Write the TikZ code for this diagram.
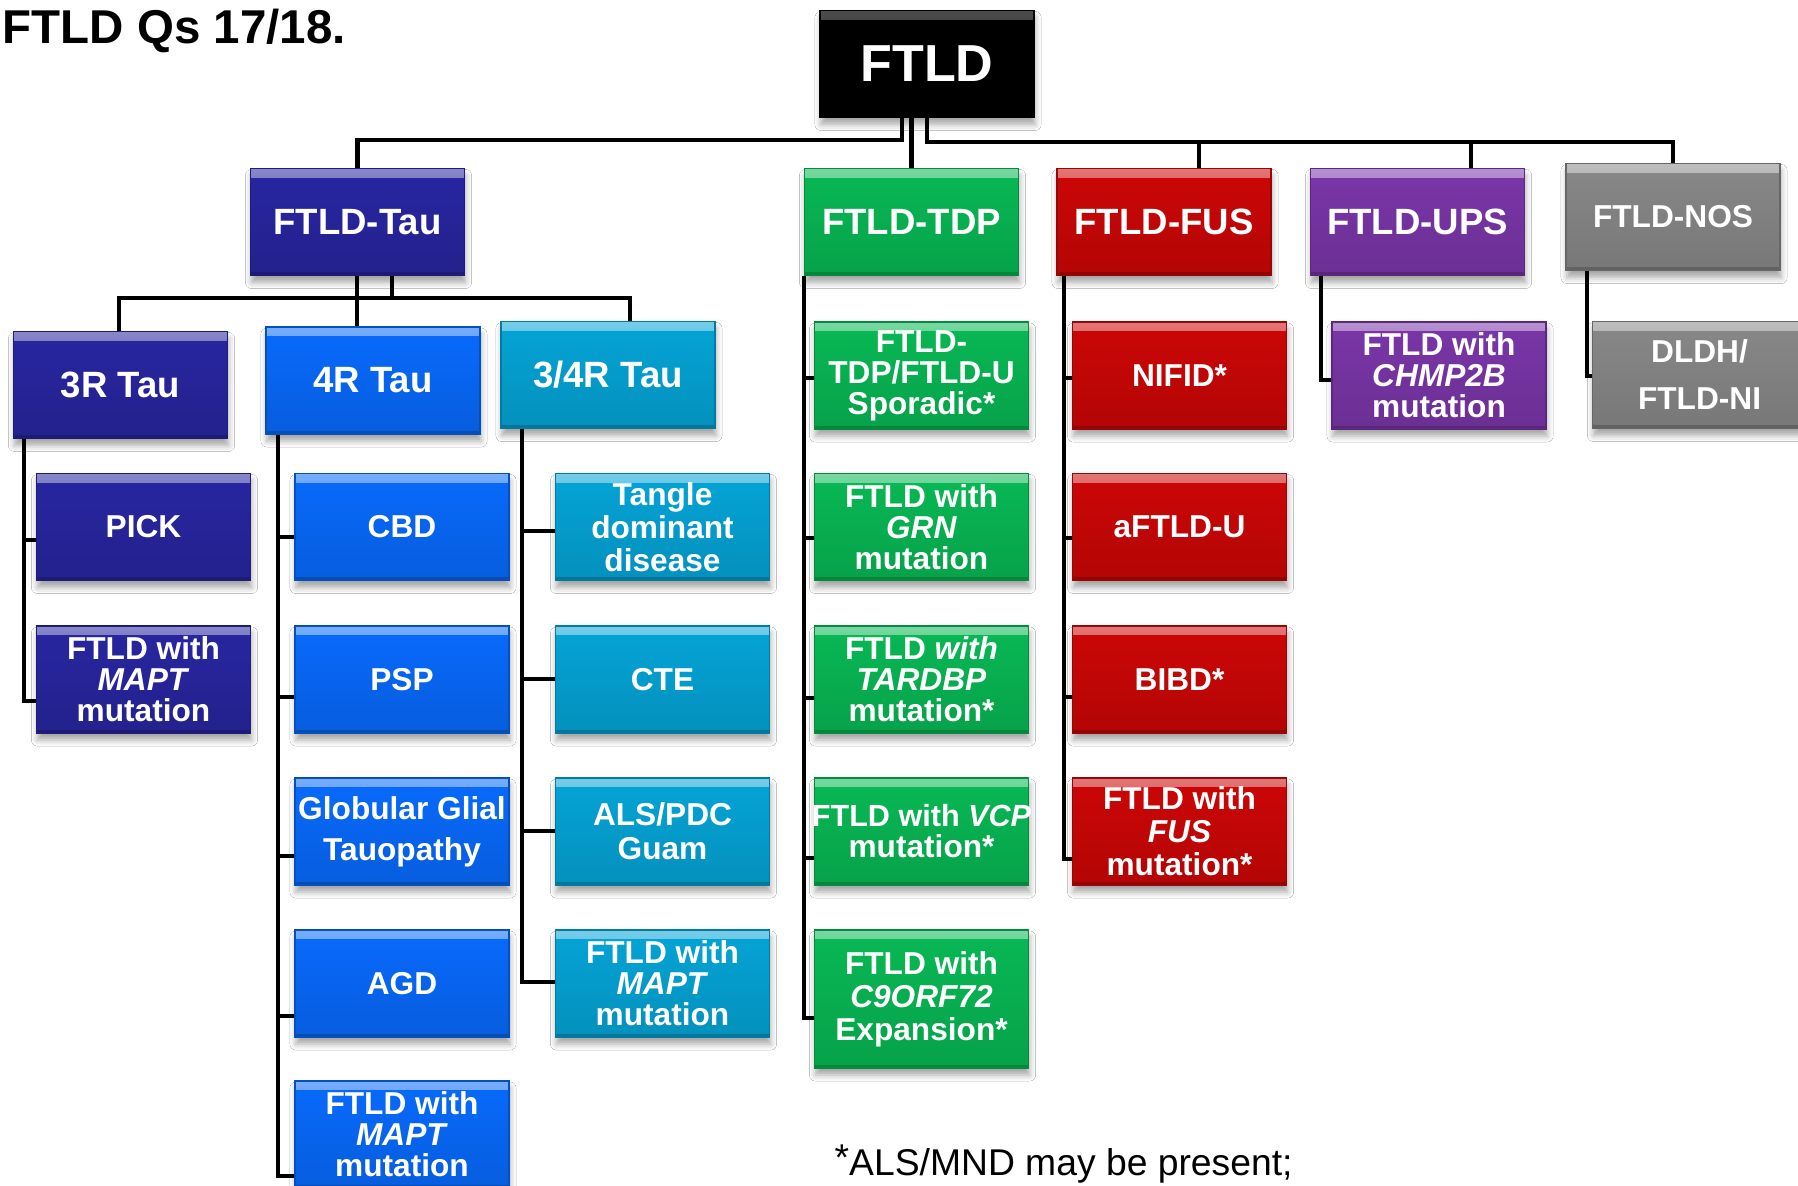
\documentclass[tikz,border=0pt]{standalone}
\usepackage{fontspec}
\setmainfont{Liberation Sans}
\usetikzlibrary{shadows.blur}
\definecolor{taudark}{RGB}{40,38,160}
\definecolor{taublue}{RGB}{8,106,252}
\definecolor{taucyan}{RGB}{4,164,214}
\definecolor{tdpgreen}{RGB}{8,184,84}
\definecolor{fusred}{RGB}{204,6,6}
\definecolor{upspurple}{RGB}{122,54,168}
\definecolor{nosgray}{RGB}{136,136,136}
\tikzset{
  box/.style={
    draw=#1!75!black, line width=0.4pt,
    top color=#1, bottom color=#1!88!black,
    minimum width=2.14cm, minimum height=1.07cm, inner sep=0pt,
    align=center, text=white,
    font=\bfseries\fontsize{9}{8.8}\selectfont,
    blur shadow={shadow xshift=0.01cm, shadow yshift=-0.07cm, shadow blur radius=0.06cm, shadow opacity=35},
    path picture={
      \shade[top color=#1!55!white, bottom color=#1]
        (path picture bounding box.north west) rectangle ([yshift=-0.09cm]path picture bounding box.north east);
      \fill[#1!72!black]
        (path picture bounding box.south west) rectangle ([yshift=0.035cm]path picture bounding box.south east);
    }
  },
  rootbox/.style={
    draw=black, line width=0.4pt, fill=black,
    minimum width=2.14cm, minimum height=1.07cm, inner sep=0pt,
    align=center, text=white,
    font=\bfseries\fontsize{14.8}{16}\selectfont,
    blur shadow={shadow xshift=0.01cm, shadow yshift=-0.07cm, shadow blur radius=0.06cm, shadow opacity=35},
    path picture={
      \shade[top color=black!70!white, bottom color=black]
        (path picture bounding box.north west) rectangle ([yshift=-0.09cm]path picture bounding box.north east);
    }
  },
  lvl1/.style={font=\bfseries\fontsize{10.4}{12}\selectfont},
  conn/.style={draw=black, line width=1.3pt}
}
\begin{document}
\begin{tikzpicture}[x=0.01cm,y=-0.01cm]
\useasboundingbox (0,0) rectangle (1798,1186);
\fill[white] (0,0) rectangle (1798,1186);

% title and footnote
\node[anchor=base west, inner sep=0pt, font=\bfseries\fontsize{13.5}{16}\selectfont] (title) at (2,44) {FTLD Qs 17/18.};
\node[anchor=base west, inner sep=0pt, font=\fontsize{10.6}{12}\selectfont] (note) at (834,1175) {\raisebox{0.25ex}{*}ALS/MND may be present;};

% root and first level
\node[rootbox] (root) at (927,64) {FTLD};
\node[box=taudark, lvl1] (tau) at (357.5,222) {FTLD-Tau};
\node[box=tdpgreen, lvl1] (tdp) at (911.5,222) {FTLD-TDP};
\node[box=fusred, lvl1] (fus) at (1164,222) {FTLD-FUS};
\node[box=upspurple, lvl1] (ups) at (1417.5,222) {FTLD-UPS};
\node[box=nosgray] (nos) at (1673,217) {FTLD-NOS};

% tau second level
\node[box=taudark, lvl1] (r3) at (120.5,385) {3R Tau};
\node[box=taublue, lvl1] (r4) at (373,380.5) {4R Tau};
\node[box=taucyan, lvl1] (r34) at (608,375) {3/4R Tau};

% 3R column
\node[box=taudark] (pick) at (143.5,527) {PICK};
\node[box=taudark] (mapt3) at (143.5,679.5) {FTLD with\\\textit{MAPT}\\mutation};

% 4R column
\node[box=taublue] (cbd) at (402,527) {CBD};
\node[box=taublue] (psp) at (402,679.5) {PSP};
\node[box=taublue] (ggt) at (402,831.5) {\makebox[0pt]{Globular Glial}\\[0.1cm]Tauopathy};
\node[box=taublue] (agd) at (402,983.5) {AGD};
\node[box=taublue] (mapt4) at (402,1134.5) {FTLD with\\\textit{MAPT}\\mutation};

% 3/4R column
\node[box=taucyan] (tangle) at (662.5,527) {Tangle\\[0.02cm]dominant\\[0.02cm]disease};
\node[box=taucyan] (cte) at (662.5,679.5) {CTE};
\node[box=taucyan] (als) at (662.5,831.5) {ALS/PDC\\[0.03cm]Guam};
\node[box=taucyan] (mapt34) at (662.5,983.5) {FTLD with\\\textit{MAPT}\\mutation};

% TDP column
\node[box=tdpgreen] (spor) at (921.5,375.5) {FTLD-\\TDP/FTLD-U\\Sporadic*};
\node[box=tdpgreen] (grn) at (921.5,527) {FTLD with\\\textit{GRN}\\mutation};
\node[box=tdpgreen] (tardbp) at (921.5,679.5) {FTLD \textit{with}\\\textit{TARDBP}\\mutation*};
\node[box=tdpgreen] (vcp) at (921.5,831.5) {\makebox[0pt]{\fontsize{8.7}{8.8}\selectfont FTLD with \textit{VCP}}\\mutation*};
\node[box=tdpgreen, minimum height=1.38cm] (c9) at (921.5,999) {FTLD with\\[0.02cm]\textit{C9ORF72}\\[0.02cm]Expansion*};

% FUS column
\node[box=fusred] (nifid) at (1179.5,375.5) {NIFID*};
\node[box=fusred] (aftld) at (1179.5,527) {aFTLD-U};
\node[box=fusred] (bibd) at (1179.5,679.5) {BIBD*};
\node[box=fusred] (fusmut) at (1179.5,831.5) {FTLD with\\[0.02cm]\textit{FUS}\\[0.02cm]mutation*};

% UPS and NOS children
\node[box=upspurple] (chmp) at (1439,375.5) {FTLD with\\\textit{CHMP2B}\\mutation};
\node[box=nosgray] (dldh) at (1699.5,375) {DLDH/\\[0.16cm]FTLD-NI};

% connectors: top level
\draw[conn] (root.south -| 902,0) -- (902,140) -| (tau.north);
\draw[conn] (root.south -| tdp.north) -- (tdp.north);
\draw[conn] (root.south -| 927,0) -- (927,142) -| (nos.north);
\draw[conn] (1199,142) -- (fus.north -| 1199,0);
\draw[conn] (1471,142) -- (ups.north -| 1471,0);

% tau level
\draw[conn] (tau.south -| 357,0) -- (r4.north -| 357,0);
\draw[conn] (tau.south -| 392,0) -- (392,298);
\draw[conn] (r3.north -| 119,0) -- (119,298) -- (630,298) -- (r34.north -| 630,0);

% 3R spine
\draw[conn] (r3.south -| 24,0) -- (24,701) -- (mapt3.west |- 0,701);
\draw[conn] (24,540) -- (pick.west |- 0,540);

% 4R spine
\draw[conn] (r4.south -| 278,0) -- (278,1176) -- (mapt4.west |- 0,1176);
\draw[conn] (278,537) -- (cbd.west |- 0,537);
\draw[conn] (278,697) -- (psp.west |- 0,697);
\draw[conn] (278,856) -- (ggt.west |- 0,856);
\draw[conn] (278,1016) -- (agd.west |- 0,1016);

% 3/4R spine
\draw[conn] (r34.south -| 522,0) -- (522,982) -- (mapt34.west |- 0,982);
\draw[conn] (522,531) -- (tangle.west |- 0,531);
\draw[conn] (522,679) -- (cte.west |- 0,679);
\draw[conn] (522,831) -- (als.west |- 0,831);

% TDP spine
\draw[conn] (tdp.south -| 804,0) -- (804,1018) -- (c9.west |- 0,1018);
\draw[conn] (804,378) -- (spor.west |- 0,378);
\draw[conn] (804,538) -- (grn.west |- 0,538);
\draw[conn] (804,698) -- (tardbp.west |- 0,698);
\draw[conn] (804,858) -- (vcp.west |- 0,858);

% FUS spine
\draw[conn] (fus.south -| 1064,0) -- (1064,859) -- (fusmut.west |- 0,859);
\draw[conn] (1064,378) -- (nifid.west |- 0,378);
\draw[conn] (1064,538) -- (aftld.west |- 0,538);
\draw[conn] (1064,697) -- (bibd.west |- 0,697);

% UPS and NOS
\draw[conn] (ups.south -| 1321,0) -- (1321,380) -- (chmp.west |- 0,380);
\draw[conn] (nos.south -| 1587,0) -- (1587,376) -- (dldh.west |- 0,376);
\end{tikzpicture}
\end{document}
